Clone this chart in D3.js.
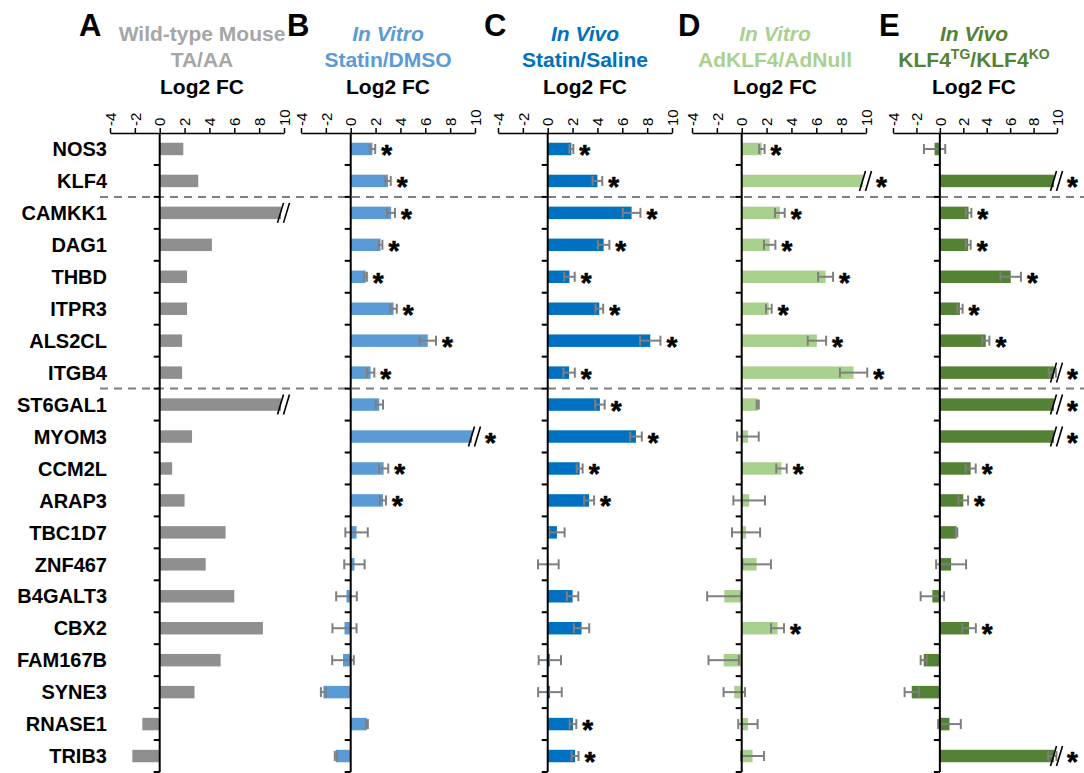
<!DOCTYPE html>
<html>
<head>
<meta charset="utf-8">
<script src="https://cdn.jsdelivr.net/npm/d3@7"></script>
<style>
body{margin:0;background:#fff;}
text{font-family:"Liberation Sans",Arial,sans-serif;}
</style>
</head>
<body>
<svg id="chart" width="1084" height="773"></svg>
<script>
var genes = ["NOS3","KLF4","CAMKK1","DAG1","THBD","ITPR3","ALS2CL","ITGB4","ST6GAL1","MYOM3",
             "CCM2L","ARAP3","TBC1D7","ZNF467","B4GALT3","CBX2","FAM167B","SYNE3","RNASE1","TRIB3"];
var ticks = [-4,-2,0,2,4,6,8,10];
var sepAfter = ["KLF4","ITGB4"];
// values above 10 are drawn as broken bars (//)
var valsA = [1.9,3.1,12,4.2,2.2,2.2,1.8,1.8,12,2.6,1.0,2.0,5.3,3.7,6.0,8.3,4.9,2.8,-1.4,-2.2];
var valsB = [1.75,3.0,3.25,2.4,1.2,3.45,6.2,1.6,2.3,12,2.65,2.6,0.47,0.3,-0.34,-0.5,-0.62,-2.2,1.3,-1.2];
var errB  = [0.22,0.22,0.31,0.15,0.1,0.26,0.66,0.3,0.3,0,0.37,0.24,0.9,0.82,0.83,0.97,0.87,0.2,0.08,0.08];
var starB = [1,1,1,1,1,1,1,1,0,1,1,1,0,0,0,0,0,0,0,0];
var valsC = [1.9,4.0,6.75,4.5,1.75,4.15,8.25,1.72,4.2,7.1,2.57,3.33,0.74,0.05,2.0,2.72,0.17,0.18,2.03,2.2];
var errC  = [0.16,0.39,0.71,0.46,0.42,0.31,0.82,0.46,0.38,0.47,0.24,0.4,0.62,0.83,0.46,0.62,0.9,0.95,0.27,0.28];
var starC = [1,1,1,1,1,1,1,1,1,1,1,1,0,0,0,0,0,0,1,1];
var valsD = [1.62,12,3.07,2.25,6.75,2.18,6.05,9.0,1.29,0.5,3.2,0.6,0.35,1.2,-1.4,2.88,-1.45,-0.6,0.5,0.87];
var errD  = [0.22,0,0.39,0.46,0.6,0.23,0.74,1.1,0.08,0.87,0.42,1.27,1.13,1.15,1.38,0.52,1.22,0.86,0.78,0.92];
var starD = [1,1,1,1,1,1,1,1,0,0,1,0,0,0,0,1,0,0,0,0];
var valsE = [-0.45,12,2.45,2.42,6.05,1.71,3.92,12,12,12,2.63,2.0,1.42,0.96,-0.64,2.49,-1.38,-2.4,0.82,12];
var errE  = [0.91,0,0.24,0.21,0.87,0.23,0.31,0.3,0,0,0.43,0.41,0.07,1.28,1.0,0.58,0.26,0.61,0.97,0.35];
var starE = [0,1,1,1,1,1,1,1,1,1,1,1,0,0,0,1,0,0,0,1];

var letters = ["A","B","C","D","E"];
var line1 = ["Wild-type Mouse","In Vitro","In Vivo","In Vitro","In Vivo"];
var line2 = [["TA/AA"],["Statin/DMSO"],["Statin/Saline"],["AdKLF4/AdNull"],["KLF4","TG","/KLF4","KO"]];
var colors = ["#8f8f8f","#5b9bd5","#0070c0","#a9d18e","#548235"];
var titleColors = ["#a6a6a6","#5b9bd5","#0070c0","#a9d18e","#548235"];

var panels = [
  {vals:valsA, errs:null, stars:null},
  {vals:valsB, errs:errB, stars:starB},
  {vals:valsC, errs:errC, stars:starC},
  {vals:valsD, errs:errD, stars:starD},
  {vals:valsE, errs:errE, stars:starE}
];

var axLeft = [110, 301, 498, 692, 893],
    axWidth = [174, 174, 174, 174, 164],
    titleShift = [5, 0, 0, -4, -1];
var yTop = 133, yBottom = 772;

var svg = d3.select("#chart");

var y = d3.scaleBand().domain(genes).range([yTop, yBottom]).paddingInner(0.61).paddingOuter(0.305);
var step = (yBottom - yTop) / genes.length;

// gene labels
svg.append("g").selectAll("text")
  .data(genes).enter().append("text")
  .attr("x", 107)
  .attr("y", function(d){ return y(d) + y.bandwidth()/2; })
  .attr("dy", "0.36em")
  .attr("text-anchor", "end")
  .style("font-size", "20px").style("font-weight", "bold")
  .text(function(d){ return d; });

// dashed separators
sepAfter.forEach(function(g){
  var yy = yTop + (genes.indexOf(g) + 1) * step;
  svg.append("line").attr("x1", 100).attr("x2", 1084).attr("y1", yy).attr("y2", yy)
    .attr("stroke", "#7f7f7f").attr("stroke-width", 2).attr("stroke-dasharray", "8,6");
});

panels.forEach(function(p, i){
  var x = d3.scaleLinear().domain([-4, 10]).range([axLeft[i], axLeft[i] + axWidth[i]]);
  var cx = axLeft[i] + axWidth[i]/2 + titleShift[i];
  var g = svg.append("g");

  // titles
  g.append("text").attr("x", letters[i] == "A" ? 79 : x(-4) - 14).attr("y", 36)
    .style("font-size", "31px").style("font-weight", "bold").text(letters[i]);
  g.append("text").attr("x", cx).attr("y", 41).attr("text-anchor", "middle")
    .style("font-size", "21px").style("font-weight", "bold")
    .style("font-style", i == 0 ? "normal" : "italic")
    .attr("fill", titleColors[i]).text(line1[i]);
  var t2 = g.append("text").attr("x", cx).attr("y", 67).attr("text-anchor", "middle")
    .style("font-size", "21px").style("font-weight", "bold").attr("fill", titleColors[i]);
  line2[i].forEach(function(s, k){
    var ts = t2.append("tspan").text(s);
    if (k % 2 == 1) ts.attr("dy", -8).style("font-size", "14px");
    else if (k > 0) ts.attr("dy", 8);
  });
  g.append("text").attr("x", cx).attr("y", 94).attr("text-anchor", "middle")
    .style("font-size", "21px").style("font-weight", "bold").text("Log2 FC");

  // top axis
  var ax = g.append("g").attr("transform", "translate(0," + yTop + ")")
    .call(d3.axisTop(x).tickValues(ticks).tickSize(5).tickSizeOuter(0)
      .tickFormat(function(d){ return String(d); }));
  ax.select(".domain").attr("stroke", "#000").attr("stroke-width", 1.5);
  ax.selectAll(".tick line").attr("stroke", "#000").attr("stroke-width", 1.5);
  ax.selectAll(".tick text")
    .attr("transform", "rotate(-90)")
    .attr("x", 7).attr("y", 0).attr("dy", "0.35em")
    .attr("text-anchor", "start")
    .attr("fill", "#000")
    .style("font-size", "15px")
    .style("font-family", "'Liberation Sans',Arial,sans-serif");

  // bars
  g.selectAll("rect").data(genes).enter().append("rect")
    .attr("x", function(d, k){ return Math.min(x(0), x(Math.min(p.vals[k], 10))); })
    .attr("y", function(d){ return y(d); })
    .attr("width", function(d, k){
      var v = p.vals[k];
      if (v > 10) return x(10) - 3 - x(0);
      return Math.abs(x(v) - x(0));
    })
    .attr("height", y.bandwidth())
    .attr("fill", colors[i]);

  // error bars
  if (p.errs) {
    genes.forEach(function(d, k){
      var e = p.errs[k];
      if (!e) return;
      var v = p.vals[k] > 10 ? 9.6 : p.vals[k];
      var yc = y(d) + y.bandwidth()/2;
      var eb = g.append("g").attr("stroke", "#7f7f7f").attr("stroke-width", 2);
      eb.append("line").attr("x1", x(v - e)).attr("x2", x(v + e)).attr("y1", yc).attr("y2", yc);
      eb.append("line").attr("x1", x(v - e)).attr("x2", x(v - e)).attr("y1", yc - 5).attr("y2", yc + 5);
      eb.append("line").attr("x1", x(v + e)).attr("x2", x(v + e)).attr("y1", yc - 5).attr("y2", yc + 5);
    });
  }

  // axis break marks
  genes.forEach(function(d, k){
    if (p.vals[k] <= 10) return;
    var yc = y(d) + y.bandwidth()/2, xb = x(10);
    [-3.5, 2.5].forEach(function(o){
      g.append("line").attr("x1", xb + o - 3).attr("x2", xb + o + 3)
        .attr("y1", yc + 10).attr("y2", yc - 10)
        .attr("stroke", "#000").attr("stroke-width", 1.6);
    });
  });

  // vertical axis at zero
  g.append("line").attr("x1", x(0)).attr("x2", x(0)).attr("y1", yTop).attr("y2", yBottom)
    .attr("stroke", "#000").attr("stroke-width", 2);
  d3.range(1, genes.length + 1).forEach(function(k){
    g.append("line").attr("x1", x(0) - 6).attr("x2", x(0))
      .attr("y1", yTop + k * step).attr("y2", yTop + k * step)
      .attr("stroke", "#000").attr("stroke-width", 2);
  });

  // significance stars
  if (p.stars) {
    genes.forEach(function(d, k){
      if (!p.stars[k]) return;
      var v = p.vals[k], e = p.errs[k] || 0;
      var sx = v > 10 ? x(10) + 10 : x(Math.max(v + e, 0)) + 6;
      g.append("text").attr("x", sx).attr("y", y(d) + y.bandwidth()/2 + 15)
        .style("font-size", "28px").style("font-weight", "bold")
        .attr("stroke", "#000").attr("stroke-width", 0.6).attr("stroke-linejoin", "round")
        .text("*");
    });
  }
});
</script>
</body>
</html>
